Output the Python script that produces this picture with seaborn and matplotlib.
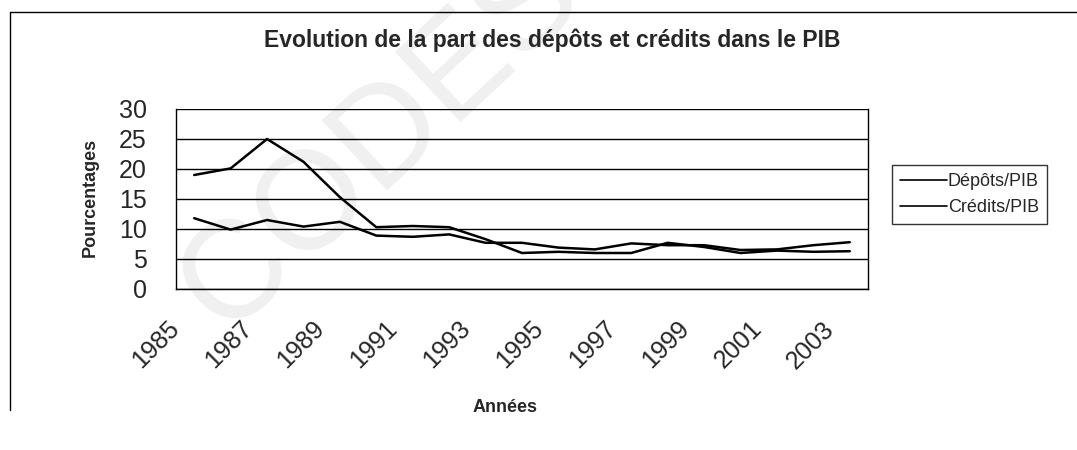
import pandas as pd
import matplotlib.pyplot as plt
import seaborn as sns
from matplotlib.lines import Line2D
from matplotlib.transforms import ScaledTranslation

# Data
annees = list(range(1985, 2004))
depots_pib = [11.8, 9.9, 11.5, 10.4, 11.2, 8.9, 8.7, 9.1, 7.7, 7.7,
              6.9, 6.6, 7.6, 7.3, 7.3, 6.5, 6.6, 7.3, 7.8]
credits_pib = [19.0, 20.1, 25.0, 21.2, 15.3, 10.3, 10.5, 10.3, 8.3, 6.0,
               6.2, 6.0, 6.0, 7.7, 7.0, 6.0, 6.4, 6.2, 6.3]
series = ["Dépôts/PIB", "Crédits/PIB"]
year_labels = [str(a) if a % 2 == 1 else "" for a in annees]

df = pd.DataFrame({
    "pos": list(range(len(annees))) * 2,
    "valeur": depots_pib + credits_pib,
    "serie": [series[0]] * len(annees) + [series[1]] * len(annees),
})

sns.set_style("white")
plt.rcParams["font.family"] = ["Liberation Sans", "DejaVu Sans"]

W, H = 1077, 450
fig = plt.figure(figsize=(W / 100, H / 100), dpi=100)
ax = fig.add_axes([176 / W, 1 - 289 / H, 692 / W, 180 / H])
ax.patch.set_alpha(0)

# faint scan watermark
fig.text(225 / W, 1 - 335 / H, "CODESRIA", fontsize=100, color="#f0f0f0",
         rotation=43, rotation_mode="anchor", ha="left", va="baseline", zorder=-1)

sns.lineplot(data=df, x="pos", y="valeur", hue="serie",
             palette=["black", "black"], linewidth=1.8, ax=ax, legend=False)

ax.set_xlim(-0.5, len(annees) - 0.5)
ax.set_ylim(0, 30)
ax.set_yticks(range(0, 31, 5))
ax.tick_params(axis="y", labelsize=18, direction="inout", length=20, width=1, pad=11)
ax.yaxis.grid(True, color="black", linewidth=1)
ax.set_xticks(range(len(annees)))
ax.set_xticklabels(year_labels, rotation=45, ha="right", va="center",
                   rotation_mode="anchor", fontsize=18)
ax.tick_params(axis="x", length=0, pad=26)
shift = ScaledTranslation(-19 / 100, 0, fig.dpi_scale_trans)
for lab in ax.get_xticklabels():
    lab.set_transform(lab.get_transform() + shift)
ax.set_xticks([i - 0.5 for i in range(len(annees) + 1)], minor=True)
ax.tick_params(axis="x", which="minor", direction="out", length=6, width=1)
for s in ax.spines.values():
    s.set_color("black")
    s.set_linewidth(1)
ax.spines["top"].set_visible(False)
ax.set_xlabel("")
ax.set_ylabel("")

fig.text(505 / W, 1 - 408 / H, "Années", fontsize=13, fontweight="bold",
         ha="center", va="center")
fig.text(90 / W, 1 - 197 / H, "Pourcentages", fontsize=13, fontweight="bold",
         rotation=90, ha="center", va="center")
fig.text(552 / W, 1 - 47 / H, "Evolution de la part des dépôts et crédits dans le PIB",
         fontsize=16.5, fontweight="bold", ha="center", va="baseline")

handles = [Line2D([0], [0], color="black", linewidth=1.2) for _ in series]
leg = fig.legend(handles, series, loc="upper left",
                 bbox_to_anchor=(892 / W, 1 - 165 / H), fontsize=13,
                 frameon=True, fancybox=False, edgecolor="black", handlelength=2.6,
                 handletextpad=0.05, borderpad=0.45, labelspacing=0.5,
                 borderaxespad=0)
leg.get_frame().set_linewidth(1)

# partial chart frame (left and top edges)
fig.add_artist(Line2D([10 / W, 10 / W], [1 - 410 / H, 1 - 12 / H],
                      color="black", linewidth=1))
fig.add_artist(Line2D([10 / W, 1], [1 - 12 / H, 1 - 12 / H],
                      color="black", linewidth=1))

fig.savefig("out.png", dpi=100)
